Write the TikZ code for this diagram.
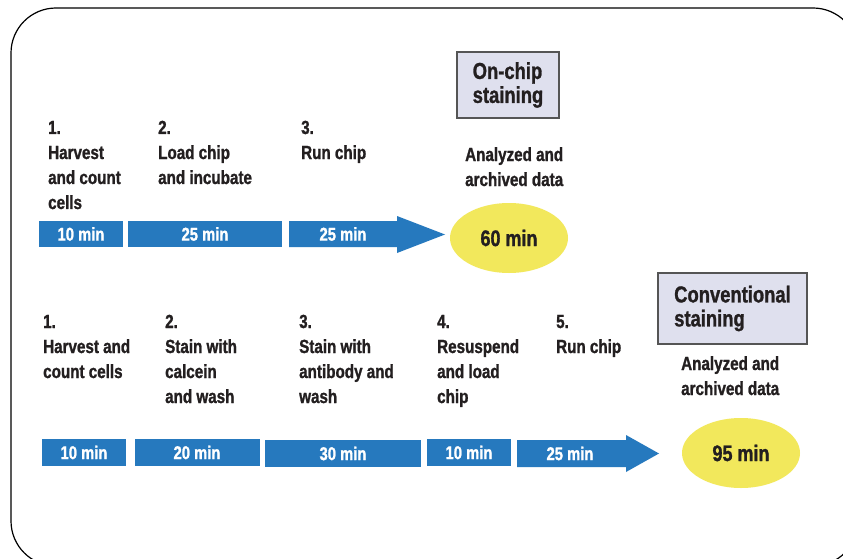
\documentclass[tikz,border=0pt]{standalone}
\usepackage{fontspec}
\setmainfont{Liberation Sans}[FakeStretch=0.8, BoldFeatures={FakeBold=1.2}]
\usetikzlibrary{shapes.geometric}
\definecolor{barblue}{HTML}{2679BE}
\definecolor{ellyellow}{HTML}{F2E85C}
\definecolor{boxfill}{HTML}{DFE0EE}
\definecolor{boxline}{HTML}{555555}
\definecolor{ink}{HTML}{231F20}
\newcommand\steplines[1]{\begin{tabular}[t]{@{}l@{}}#1\end{tabular}}
\begin{document}
\begin{tikzpicture}[x=1pt,y=-1pt,
  steplabel/.style={anchor=base west, inner sep=0, text=ink,
    font=\fontsize{19}{25}\selectfont\bfseries},
  bar/.style={fill=barblue, inner sep=0, minimum height=27, text=white,
    font=\fontsize{18.5}{20}\selectfont\bfseries},
  bartext/.style={inner sep=0, text=white, font=\fontsize{18.5}{20}\selectfont\bfseries},
  arrowbar/.style={fill=barblue},
  result/.style={ellipse, fill=ellyellow, inner sep=0, minimum width=118,
    minimum height=70, text=ink, font=\fontsize{22.5}{24}\selectfont\bfseries},
  titlebox/.style={draw=boxline, line width=1.2pt, fill=boxfill, align=left,
    inner sep=0, text=ink, font=\fontsize{23}{24}\selectfont\bfseries},
  frame/.style={draw=black, line width=1.2pt, rounded corners=45pt}
]
\useasboundingbox (0,0) rectangle (843,559);
\clip (0,0) rectangle (843,559);
\fill[white] (0,0) rectangle (843,559);
\path[frame] (11,8) rectangle (858,566);

% ---------- On-chip staining ----------
\node[titlebox, minimum width=102, minimum height=66] (onchip) at (508,85) {On-chip\\staining};
\node[steplabel] (t1) at (48,134) {\steplines{1.\\Harvest\\and count\\cells}};
\node[steplabel] (t2) at (158,134) {\steplines{2.\\Load chip\\and incubate}};
\node[steplabel] (t3) at (301,134) {\steplines{3.\\Run chip}};
\node[steplabel] (ta) at (465,161) {\steplines{Analyzed and\\archived data}};

\node[bar, minimum width=84, minimum height=26] (tb1) at (81,234) {10 min};
\node[bar, minimum width=154, minimum height=26] (tb2) at (205,234) {25 min};
\path[arrowbar] (289,221) -- (397,221) -- (397,216) -- (445,234.5) -- (397,253) -- (397,247) -- (289,247) -- cycle;
\node[bartext] (tb3) at (343,234) {25 min};
\node[result] (tres) at (509,238) {60 min};

% ---------- Conventional staining ----------
\node[titlebox, minimum width=149, minimum height=71] (conv) at (732.5,308.5) {Conventional\\staining};
\node[steplabel] (c1) at (43,328) {\steplines{1.\\Harvest and\\count cells}};
\node[steplabel] (c2) at (165,328) {\steplines{2.\\Stain with\\calcein\\and wash}};
\node[steplabel] (c3) at (299,328) {\steplines{3.\\Stain with\\antibody and\\wash}};
\node[steplabel] (c4) at (437,328) {\steplines{4.\\Resuspend\\and load\\chip}};
\node[steplabel] (c5) at (556,328) {\steplines{5.\\Run chip}};
\node[steplabel] (ca) at (681,370) {\steplines{Analyzed and\\archived data}};

\node[bar, minimum width=84] (cb1) at (84,452.5) {10 min};
\node[bar, minimum width=125] (cb2) at (197,452.5) {20 min};
\node[bar, minimum width=156] (cb3) at (343,453.5) {30 min};
\node[bar, minimum width=84] (cb4) at (469,452.5) {10 min};
\path[arrowbar] (517,440) -- (626,440) -- (626,435) -- (659,453.5) -- (626,472) -- (626,467) -- (517,467) -- cycle;
\node[bartext] (cb5) at (570,453.5) {25 min};
\node[result] (cres) at (741,453) {95 min};
\end{tikzpicture}
\end{document}
